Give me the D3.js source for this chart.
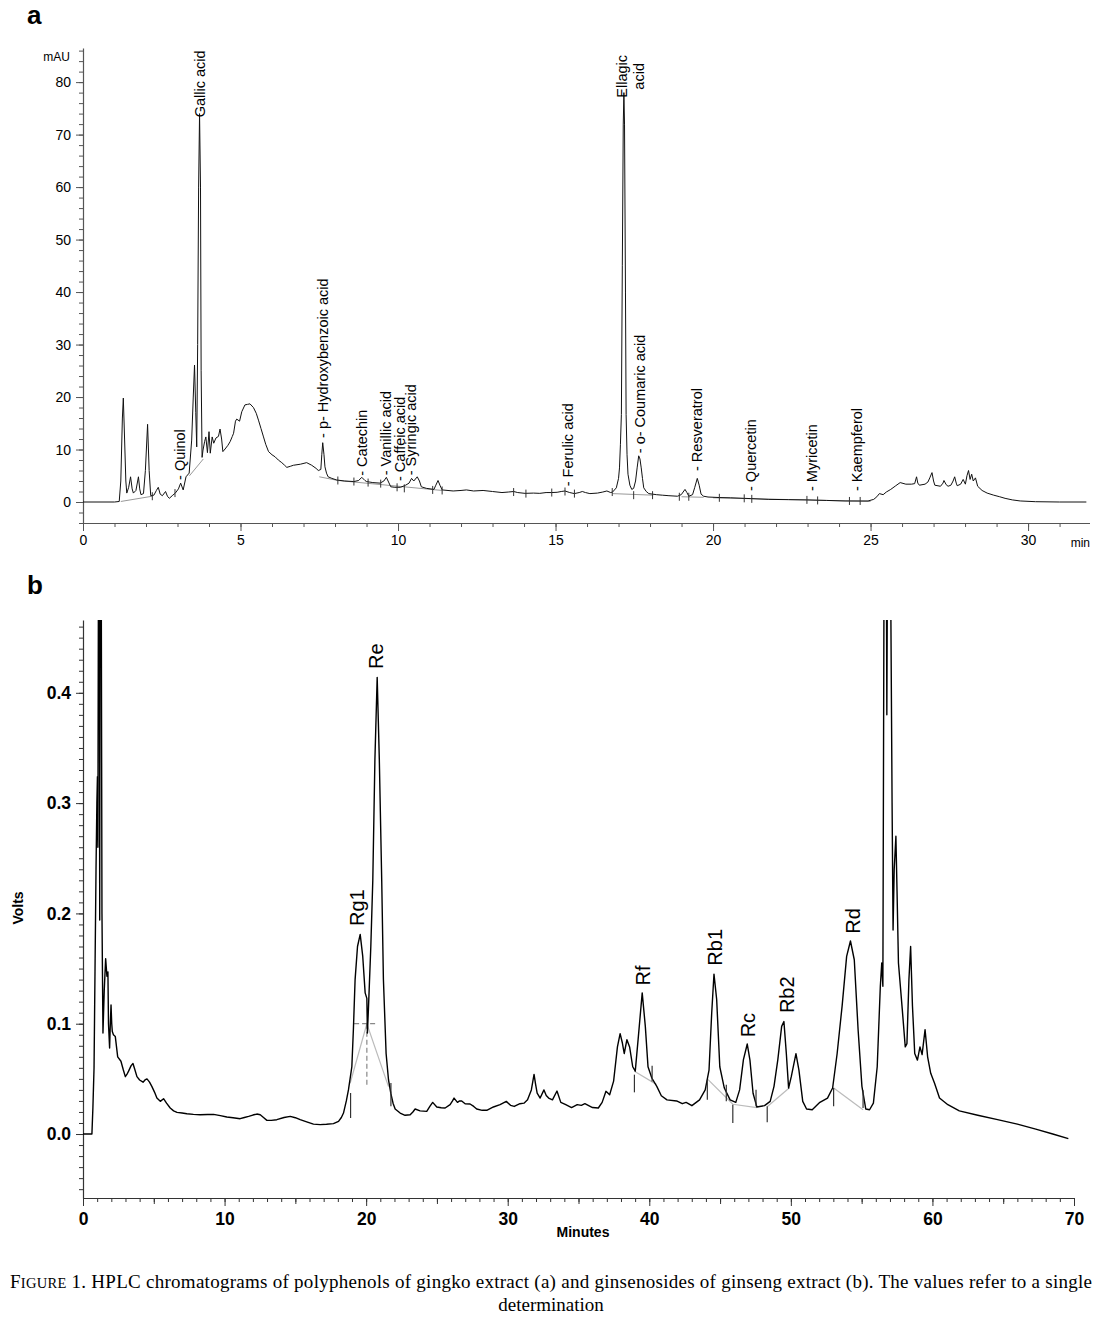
<!DOCTYPE html>
<html><head><meta charset="utf-8">
<script src="https://cdn.jsdelivr.net/npm/d3@7"></script>
<style>body{margin:0;background:#fff} svg{display:block}</style>
</head><body>
<svg id="c" width="1102" height="1324"></svg>
<script>
// ---------- Panel a data (time in min, absorbance in mAU) ----------
const aTrace = [[0,0],[1.0,0],[1.15,0.1],[1.2,4],[1.25,16],[1.28,19.8],[1.32,12],[1.36,4],[1.39,1.7],[1.45,2.8],[1.51,4.8],[1.56,2.5],[1.6,1.7],[1.68,2.2],[1.76,4.8],[1.8,2.5],[1.84,1.4],[1.92,1.6],[1.98,6],[2.05,14.8],[2.1,6],[2.15,1.2],[2.25,1.3],[2.33,2.2],[2.39,2.8],[2.45,1.5],[2.52,1.2],[2.62,2.0],[2.68,1.1],[2.74,0.7],[2.85,1.3],[2.93,1.7],[3.03,2.5],[3.1,3.6],[3.18,2.3],[3.27,4.8],[3.37,5.5],[3.45,11.8],[3.5,20],[3.54,26.1],[3.58,17],[3.61,10.5],[3.64,30],[3.67,60],[3.7,74],[3.73,60],[3.75,25],[3.78,8.5],[3.81,9.9],[3.86,11.5],[3.9,12.4],[3.95,9.4],[4.0,13.4],[4.04,9.3],[4.1,12.4],[4.15,11.2],[4.22,12.2],[4.3,12.5],[4.35,13.9],[4.4,12],[4.44,9.6],[4.51,10.1],[4.6,10.8],[4.67,11.5],[4.74,12.5],[4.78,13.1],[4.84,15.4],[4.88,15.8],[4.97,15.4],[5.04,17.2],[5.14,18.5],[5.22,18.6],[5.3,18.7],[5.41,18],[5.5,16.9],[5.57,15.6],[5.65,14],[5.73,12.4],[5.8,11],[5.89,9.6],[6.0,9.0],[6.1,8.6],[6.2,8.0],[6.31,7.5],[6.4,7.0],[6.47,6.6],[6.58,6.8],[6.68,7.0],[6.9,7.2],[7.1,7.5],[7.26,7.0],[7.4,6.4],[7.47,6.0],[7.55,6.2],[7.58,9],[7.61,11.3],[7.65,9],[7.68,6.7],[7.73,5.5],[7.78,4.8],[7.9,4.5],[8.05,4.2],[8.3,4.0],[8.6,3.9],[8.75,4.1],[8.85,4.7],[8.95,4.1],[9.0,3.9],[9.2,3.7],[9.43,3.6],[9.55,4.0],[9.63,4.7],[9.7,3.8],[9.77,2.9],[9.9,2.8],[10.08,2.8],[10.24,3.2],[10.35,3.6],[10.43,4.5],[10.5,4.0],[10.61,4.8],[10.68,4.0],[10.74,2.9],[10.9,2.6],[11.14,2.4],[11.2,3.2],[11.27,4.1],[11.33,3.2],[11.4,2.3],[11.75,2.1],[12.0,2.2],[12.17,2.3],[12.4,2.1],[12.7,2.2],[13.0,2.0],[13.3,1.8],[13.5,1.9],[13.67,2.0],[13.8,1.8],[14.03,1.65],[14.3,1.7],[14.5,1.65],[14.7,1.8],[14.88,1.8],[15.05,1.85],[15.18,2.0],[15.3,2.1],[15.45,1.8],[15.6,1.6],[15.75,1.8],[15.85,2.0],[15.95,1.8],[16.09,1.6],[16.33,1.7],[16.5,1.9],[16.63,2.1],[16.75,1.8],[16.81,1.9],[16.93,2.7],[17.0,4.5],[17.03,6.5],[17.06,11],[17.09,16.7],[17.12,45],[17.15,72],[17.17,78],[17.19,72],[17.22,40],[17.24,16.7],[17.27,9],[17.3,5.3],[17.36,3.2],[17.42,2.4],[17.48,2.6],[17.54,4.0],[17.59,6.5],[17.64,8.8],[17.68,8.2],[17.72,6.5],[17.76,4.5],[17.8,2.7],[17.88,2.0],[17.96,1.6],[18.2,1.4],[18.39,1.3],[18.6,1.2],[18.87,1.1],[18.99,1.4],[19.05,1.9],[19.11,2.4],[19.17,1.8],[19.23,1.1],[19.35,1.4],[19.42,2.8],[19.5,4.5],[19.56,3.2],[19.62,1.5],[19.7,1.1],[19.84,0.95],[20.2,0.85],[20.56,0.8],[21.2,0.65],[21.77,0.5],[22.4,0.45],[22.98,0.4],[23.6,0.3],[24.19,0.2],[24.92,0.2],[25.1,0.5],[25.2,1.0],[25.28,1.6],[25.4,1.4],[25.5,1.9],[25.64,2.4],[25.8,3.1],[25.94,3.7],[26.12,3.4],[26.3,3.4],[26.4,3.5],[26.46,4.8],[26.5,3.6],[26.55,3.2],[26.73,3.4],[26.82,3.8],[26.88,4.6],[26.95,5.6],[27.0,4.0],[27.04,3.2],[27.22,3.0],[27.3,3.6],[27.33,4.1],[27.4,3.3],[27.46,3.0],[27.55,3.2],[27.62,4.0],[27.67,4.8],[27.72,3.6],[27.75,3.1],[27.86,3.4],[27.94,4.3],[28.01,3.4],[28.06,5.0],[28.11,6.0],[28.16,4.3],[28.21,5.3],[28.26,4.0],[28.33,4.6],[28.4,3.0],[28.54,2.2],[28.7,1.7],[28.91,1.3],[29.1,1.0],[29.27,0.7],[29.5,0.4],[29.75,0.2],[30.24,0.06],[31.0,0.0],[31.85,0.0]];

const aBaselines = [
  [[1.2,0.1],[2.2,1.1]],
  [[3.38,5.0],[3.82,8.2]],
  [[7.5,4.8],[8.1,4.1]],
  [[8.1,4.1],[11.4,2.2]],
  [[16.8,1.6],[18.1,1.3]],
  [[19.0,1.0],[19.7,0.9]],
  [[20.0,0.8],[25.0,0.1]]
];
const aMarkTimes  = [2.2,2.92,8.09,8.6,9.05,9.45,9.97,10.2,11.1,11.4,13.67,14.06,14.88,15.3,15.6,16.8,17.48,18.08,18.93,19.23,20.2,20.99,21.23,22.98,23.32,24.33,24.67];
const aMarkLevels = [1.1,1.7,4.1,3.9,3.7,3.5,2.8,2.6,2.3,2.2,1.9,1.6,1.8,2.0,1.6,1.9,1.3,1.3,1.0,1.0,0.8,0.7,0.6,0.4,0.3,0.2,0.2];

const aLabelNames  = ["- Quinol","Gallic acid","- p- Hydroxybenzoic acid","- Catechin","- Vanillic acid","- Caffeic acid","- Syringic acid","- Ferulic acid","- o- Coumaric acid","- Resveratrol","- Quercetin","- Myricetin","- Kaempferol"];
const aLabelTimes  = [3.08,3.71,7.62,8.86,9.62,10.06,10.41,15.4,17.68,19.49,21.2,23.14,24.57];
const aLabelLevels = [4.2,73.3,12.2,5.0,5.1,4.0,5.1,3.0,9.3,5.9,2.1,2.1,2.1];
const aEllagicLines = ["Ellagic","acid"];
const aEllagicAt = [17.12, 81.1];

const aYMajor = [0,10,20,30,40,50,60,70,80];
const aYMinor = d3.range(-4, 87, 2);
const aXMajor = [0,5,10,15,20,25,30];
const aXMinor = d3.range(0, 32, 1);

// ---------- Panel b data (time in min, signal in V) ----------
const bTrace = [[0,0],[0.63,0],[0.7,0.024],[0.78,0.06],[0.85,0.15],[0.92,0.24],[0.98,0.3],[1.02,0.324],[1.05,0.26],[1.09,0.5],[1.13,0.9],[1.16,0.5],[1.18,0.194],[1.21,0.5],[1.25,0.9],[1.29,0.5],[1.34,0.2],[1.41,0.0915],[1.5,0.13],[1.6,0.159],[1.69,0.143],[1.76,0.147],[1.8,0.1],[1.88,0.078],[1.93,0.1],[1.98,0.117],[2.03,0.1],[2.07,0.093],[2.15,0.09],[2.28,0.0885],[2.45,0.070],[2.68,0.066],[2.85,0.058],[2.99,0.052],[3.1,0.054],[3.22,0.057],[3.4,0.062],[3.53,0.064],[3.65,0.059],[3.81,0.052],[4.0,0.049],[4.24,0.047],[4.38,0.049],[4.52,0.05],[4.7,0.047],[4.87,0.043],[5.05,0.038],[5.22,0.0326],[5.46,0.0296],[5.69,0.032],[5.9,0.028],[6.16,0.0236],[6.4,0.021],[6.64,0.0196],[7.0,0.019],[7.34,0.0184],[7.8,0.0178],[8.28,0.0175],[8.8,0.0177],[9.22,0.0178],[9.7,0.0167],[10.16,0.0154],[10.6,0.0148],[11.1,0.0139],[11.4,0.015],[11.7,0.016],[12.0,0.0172],[12.28,0.0181],[12.52,0.0175],[12.75,0.015],[12.99,0.0124],[13.3,0.0124],[13.69,0.013],[14.2,0.015],[14.64,0.016],[15.0,0.0148],[15.34,0.013],[15.8,0.011],[16.28,0.009],[16.75,0.0085],[17.2,0.0088],[17.69,0.0094],[18.05,0.0115],[18.25,0.015],[18.4,0.019],[18.6,0.03],[18.75,0.040],[18.99,0.061],[19.1,0.095],[19.22,0.14],[19.39,0.17],[19.58,0.181],[19.76,0.161],[19.93,0.128],[20.05,0.123],[20.09,0.0915],[20.16,0.113],[20.33,0.17],[20.47,0.23],[20.62,0.34],[20.78,0.414],[20.93,0.34],[21.1,0.23],[21.22,0.14],[21.41,0.073],[21.58,0.049],[21.74,0.037],[21.9,0.028],[22.05,0.0227],[22.4,0.019],[22.75,0.017],[23.11,0.0175],[23.3,0.02],[23.46,0.0227],[23.81,0.021],[24.28,0.0205],[24.5,0.025],[24.7,0.0287],[24.99,0.0245],[25.3,0.0238],[25.58,0.0236],[25.93,0.0266],[26.1,0.03],[26.21,0.0326],[26.45,0.0287],[26.6,0.030],[26.75,0.030],[26.99,0.0275],[27.34,0.0272],[27.6,0.025],[27.81,0.0227],[28.2,0.0215],[28.52,0.0215],[28.99,0.0245],[29.46,0.0266],[29.9,0.0296],[30.2,0.026],[30.46,0.025],[30.86,0.0275],[31.15,0.028],[31.4,0.031],[31.67,0.040],[31.86,0.054],[31.97,0.045],[32.08,0.037],[32.29,0.0326],[32.56,0.040],[32.72,0.035],[32.89,0.0326],[33.16,0.031],[33.48,0.039],[33.75,0.0287],[34.1,0.0266],[34.51,0.024],[34.91,0.0266],[35.2,0.026],[35.45,0.0275],[35.99,0.024],[36.4,0.0236],[36.67,0.0287],[36.94,0.0387],[37.2,0.0356],[37.48,0.048],[37.75,0.079],[37.94,0.091],[38.1,0.0825],[38.23,0.073],[38.42,0.0855],[38.61,0.079],[38.83,0.061],[39.01,0.057],[39.23,0.0885],[39.5,0.128],[39.72,0.0976],[39.91,0.061],[40.18,0.0508],[40.53,0.0432],[40.85,0.0347],[41.25,0.031],[41.93,0.030],[42.33,0.0275],[42.6,0.0287],[43.01,0.0257],[43.55,0.031],[43.95,0.040],[44.22,0.058],[44.41,0.11],[44.57,0.145],[44.76,0.122],[44.98,0.061],[45.3,0.0417],[45.71,0.031],[46.11,0.0287],[46.38,0.040],[46.65,0.0674],[46.92,0.0816],[47.11,0.067],[47.33,0.037],[47.6,0.0245],[48.14,0.0257],[48.54,0.0296],[48.81,0.0432],[49.08,0.0674],[49.35,0.0976],[49.51,0.102],[49.68,0.073],[49.84,0.0417],[50.03,0.052],[50.36,0.0728],[50.57,0.058],[50.84,0.0296],[51.11,0.0227],[51.51,0.022],[52.05,0.0287],[52.59,0.0326],[52.95,0.0417],[53.27,0.073],[53.62,0.116],[53.94,0.161],[54.21,0.175],[54.48,0.158],[54.75,0.0946],[55.02,0.0432],[55.29,0.0227],[55.56,0.022],[55.83,0.028],[56.1,0.061],[56.32,0.134],[56.42,0.155],[56.5,0.134],[56.58,0.5],[56.68,0.8],[56.78,0.38],[56.88,0.7],[57.0,0.6],[57.15,0.3],[57.22,0.185],[57.3,0.24],[57.42,0.27],[57.5,0.22],[57.6,0.155],[57.87,0.113],[58.08,0.079],[58.2,0.082],[58.34,0.14],[58.46,0.17],[58.59,0.116],[58.75,0.073],[58.94,0.067],[59.12,0.079],[59.27,0.072],[59.48,0.0946],[59.66,0.070],[59.88,0.055],[60.15,0.046],[60.5,0.0326],[61.09,0.0266],[61.9,0.021],[63.2,0.017],[64.6,0.013],[66.0,0.009],[67.3,0.0045],[68.5,0.0],[69.6,-0.0042]];

const bBaselines = [
  [[18.87,0.046],[20.05,0.1],[21.58,0.043]],
  [[38.95,0.057],[40.5,0.045]],
  [[44.1,0.05],[45.9,0.027],[47.6,0.024]],
  [[48.35,0.025],[49.9,0.042]],
  [[53.0,0.042],[55.1,0.022]]
];
const bDashed = [
  [[19.15,0.1],[20.75,0.1]],
  [[20.05,0.1],[20.05,0.043]]
];
const bMarkTimes = [18.9,21.75,38.95,40.2,44.1,45.44,45.9,47.54,48.33,53.02,55.1];
const bMarkLow   = [0.0145,0.0251,0.0378,0.0477,0.0311,0.0296,0.010,0.0251,0.0106,0.0251,0.0236];
const bMarkHigh  = [0.0372,0.0462,0.0538,0.062,0.0492,0.0447,0.0266,0.0402,0.0251,0.0417,0.0396];

const bLabelNames  = ["Rg1","Re","Rf","Rb1","Rc","Rb2","Rd"];
const bLabelTimes  = [19.35,20.7,39.55,44.65,46.95,49.7,54.4];
const bLabelLevels = [0.185,0.418,0.131,0.149,0.084,0.106,0.178];

const bYMajor = [0,0.1,0.2,0.3,0.4];
const bYMinor = d3.range(-5, 47, 1).map(d => d/100);
const bXMajor = [0,10,20,30,40,50,60,70];
const bXMid   = [5,15,25,35,45,55,65];
const bXMinor = d3.range(0, 71, 1);

const captionLine1 = ["F","IGURE"," 1. HPLC chromatograms of polyphenols of gingko extract (a) and ginsenosides of ginseng extract (b). The values refer to a single"];
const captionLine2 = "determination";

// ---------- drawing ----------
const svg = d3.select("#c");
const sans = "'Liberation Sans', Arial, Helvetica, sans-serif";

const ax = d3.scaleLinear().domain([0, 31.95]).range([83, 1089.5]);
const ay = d3.scaleLinear().domain([-4, 86.5]).range([523, 48]);
const bx = d3.scaleLinear().domain([0, 70]).range([83, 1074]);
const by = d3.scaleLinear().domain([-0.058, 0.466]).range([1198, 620]);

svg.append("defs").call(d => {
  d.append("clipPath").attr("id","clipA").append("rect").attr("x",83).attr("y",48).attr("width",1010).attr("height",475);
  d.append("clipPath").attr("id","clipB").append("rect").attr("x",83).attr("y",620).attr("width",995).attr("height",578);
});

// ---- Panel a ----
const ga = svg.append("g");
ga.append("text").attr("x",27).attr("y",24).attr("font-family",sans).attr("font-weight","bold").attr("font-size",26).text("a");

function styleAxis(g, color, fs, weight){
  g.selectAll("path.domain").attr("stroke",color).attr("stroke-width",1.2);
  g.selectAll(".tick line").attr("stroke",color).attr("stroke-width",1);
  g.selectAll(".tick text").attr("fill","#000").attr("font-family",sans).attr("font-size",fs).attr("font-weight",weight);
}
ga.append("g").attr("transform","translate(83,0)")
  .call(d3.axisLeft(ay).tickValues(aYMinor).tickSize(4).tickFormat("").tickSizeOuter(0))
  .call(g => { g.select(".domain").remove(); g.selectAll(".tick line").attr("stroke","#555"); });
ga.append("g").attr("transform","translate(83,0)")
  .call(d3.axisLeft(ay).tickValues(aYMajor).tickSize(7).tickPadding(5).tickSizeOuter(0).tickFormat(d3.format("d")))
  .call(g => styleAxis(g,"#555",14,"normal"));
ga.append("g").attr("transform","translate(0,523)")
  .call(d3.axisBottom(ax).tickValues(aXMinor).tickSize(4).tickFormat("").tickSizeOuter(0))
  .call(g => { g.select(".domain").remove(); g.selectAll(".tick line").attr("stroke","#555"); });
ga.append("g").attr("transform","translate(0,523)")
  .call(d3.axisBottom(ax).tickValues(aXMajor).tickSize(8).tickPadding(4).tickSizeOuter(0).tickFormat(d3.format("d")))
  .call(g => styleAxis(g,"#555",14,"normal"));
ga.append("text").attr("x",70).attr("y",61).attr("text-anchor","end").attr("font-family",sans).attr("font-size",12).text("mAU");
ga.append("text").attr("x",1090).attr("y",547).attr("text-anchor","end").attr("font-family",sans).attr("font-size",12).text("min");

const aPlot = ga.append("g").attr("clip-path","url(#clipA)");
const lineA = d3.line().x(d => ax(d[0])).y(d => ay(d[1]));
aPlot.selectAll("path.base").data(aBaselines).join("path").attr("class","base")
  .attr("d", lineA).attr("fill","none").attr("stroke","#999").attr("stroke-width",1);
aPlot.append("path").datum(aTrace).attr("d", lineA).attr("fill","none").attr("stroke","#111").attr("stroke-width",1).attr("stroke-linejoin","round");
aPlot.selectAll("line.mk").data(aMarkTimes).join("line").attr("class","mk")
  .attr("x1",(d)=>ax(d)).attr("x2",(d)=>ax(d))
  .attr("y1",(d,i)=>ay(aMarkLevels[i])-4).attr("y2",(d,i)=>ay(aMarkLevels[i])+4)
  .attr("stroke","#333").attr("stroke-width",1);

ga.selectAll("text.lab").data(aLabelNames).join("text").attr("class","lab")
  .attr("transform",(d,i)=>`translate(${ax(aLabelTimes[i])},${ay(aLabelLevels[i])}) rotate(-90)`)
  .attr("dominant-baseline","central").attr("text-anchor","start")
  .attr("font-family",sans).attr("font-size",14.5).text(d=>d);
const ell = ga.append("text")
  .attr("transform",`translate(${ax(aEllagicAt[0])},${ay(aEllagicAt[1])}) rotate(-90)`)
  .attr("text-anchor","middle").attr("font-family",sans).attr("font-size",14.5);
ell.selectAll("tspan").data(aEllagicLines).join("tspan").attr("x",0).attr("dy",(d,i)=> i===0 ? "0.35em" : "1.15em").text(d=>d);

// ---- Panel b ----
const gb = svg.append("g");
gb.append("text").attr("x",27).attr("y",594).attr("font-family",sans).attr("font-weight","bold").attr("font-size",26).text("b");

gb.append("g").attr("transform","translate(83,0)")
  .call(d3.axisLeft(by).tickValues(bYMinor).tickSize(4).tickFormat("").tickSizeOuter(0))
  .call(g => { g.select(".domain").remove(); g.selectAll(".tick line").attr("stroke","#333"); });
gb.append("g").attr("transform","translate(83,0)")
  .call(d3.axisLeft(by).tickValues(bYMajor).tickSize(7).tickPadding(5).tickSizeOuter(0).tickFormat(d3.format(".1f")))
  .call(g => styleAxis(g,"#333",17.5,"bold"));
gb.append("g").attr("transform","translate(0,1198)")
  .call(d3.axisBottom(bx).tickValues(bXMinor).tickSize(4).tickFormat("").tickSizeOuter(0))
  .call(g => { g.select(".domain").remove(); g.selectAll(".tick line").attr("stroke","#333"); });
gb.append("g").attr("transform","translate(0,1198)")
  .call(d3.axisBottom(bx).tickValues(bXMid).tickSize(6).tickFormat("").tickSizeOuter(0))
  .call(g => { g.select(".domain").remove(); g.selectAll(".tick line").attr("stroke","#333"); });
gb.append("g").attr("transform","translate(0,1198)")
  .call(d3.axisBottom(bx).tickValues(bXMajor).tickSize(8).tickPadding(7).tickSizeOuter(0).tickFormat(d3.format("d")))
  .call(g => styleAxis(g,"#333",17.5,"bold"));
gb.append("text").attr("transform","translate(23,908) rotate(-90)").attr("text-anchor","middle")
  .attr("font-family",sans).attr("font-weight","bold").attr("font-size",14).text("Volts");
gb.append("text").attr("x",583).attr("y",1237).attr("text-anchor","middle")
  .attr("font-family",sans).attr("font-weight","bold").attr("font-size",14).text("Minutes");

const bPlot = gb.append("g").attr("clip-path","url(#clipB)");
const lineB = d3.line().x(d => bx(d[0])).y(d => by(d[1]));
bPlot.selectAll("path.base").data(bBaselines).join("path").attr("class","base")
  .attr("d", lineB).attr("fill","none").attr("stroke","#bbb").attr("stroke-width",1.2);
bPlot.selectAll("path.dash").data(bDashed).join("path").attr("class","dash")
  .attr("d", lineB).attr("fill","none").attr("stroke","#888").attr("stroke-width",1.2).attr("stroke-dasharray","5,3");
bPlot.append("path").datum(bTrace).attr("d", lineB).attr("fill","none").attr("stroke","#000").attr("stroke-width",1.4).attr("stroke-linejoin","round");
bPlot.selectAll("line.mk").data(bMarkTimes).join("line").attr("class","mk")
  .attr("x1",d=>bx(d)).attr("x2",d=>bx(d))
  .attr("y1",(d,i)=>by(bMarkLow[i])).attr("y2",(d,i)=>by(bMarkHigh[i]))
  .attr("stroke","#333").attr("stroke-width",1.2);

gb.selectAll("text.lab").data(bLabelNames).join("text").attr("class","lab")
  .attr("transform",(d,i)=>`translate(${bx(bLabelTimes[i])},${by(bLabelLevels[i])-4}) rotate(-90)`)
  .attr("dominant-baseline","central").attr("text-anchor","start")
  .attr("font-family",sans).attr("font-size",20).text(d=>d);

// ---- Caption ----
const serif = "'Liberation Serif','Times New Roman',Times,serif";
const cap = svg.append("text").attr("x",10).attr("y",1288).attr("font-family",serif).attr("font-size",19)
  .attr("textLength",1082).attr("lengthAdjust","spacing");
cap.selectAll("tspan").data(captionLine1).join("tspan")
  .attr("font-size",(d,i)=> i===1 ? 14.5 : 19).text(d=>d);
svg.append("text").attr("x",551).attr("y",1311).attr("text-anchor","middle").attr("font-family",serif).attr("font-size",19).text(captionLine2);
</script>
</body></html>
